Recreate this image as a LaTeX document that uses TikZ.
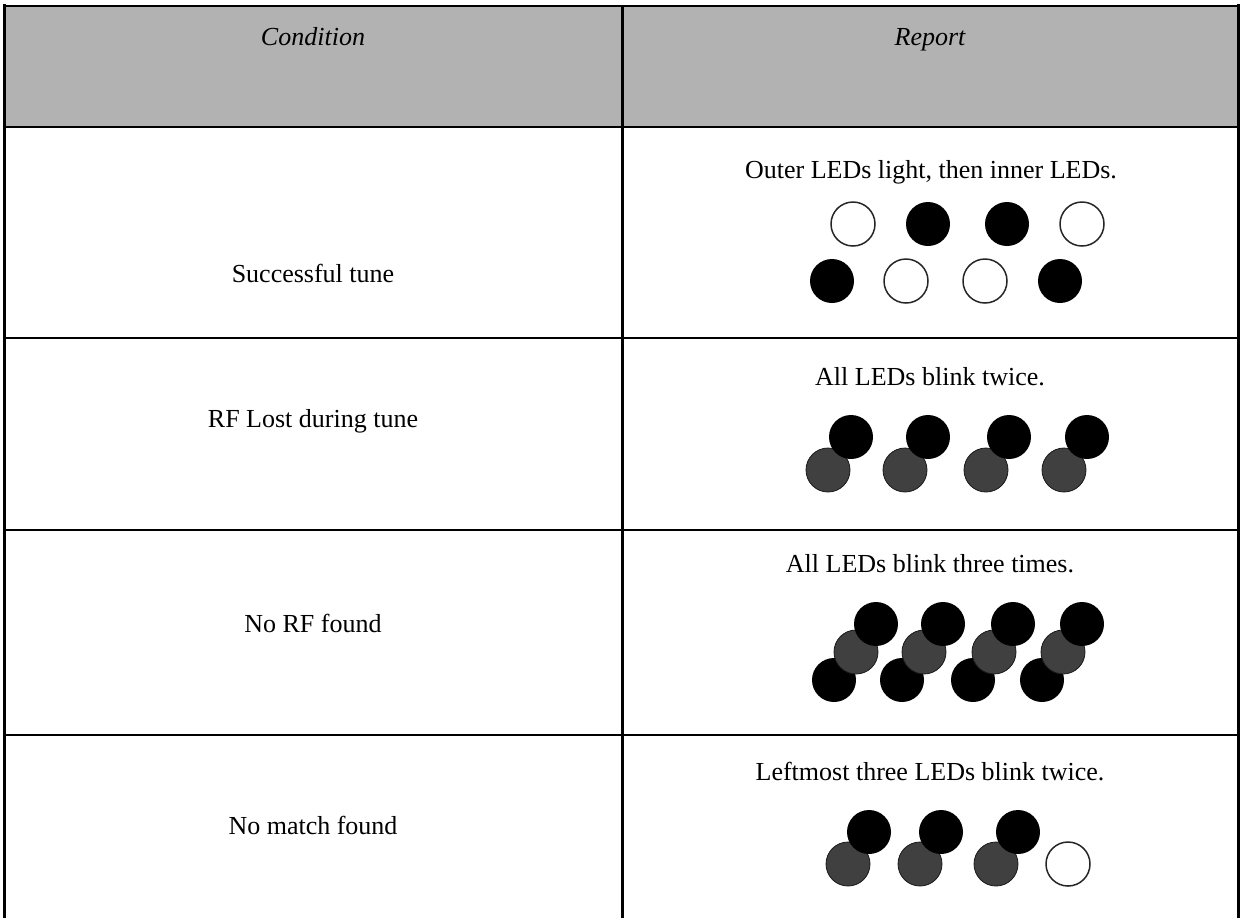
\documentclass[tikz,border=0pt]{standalone}
\usepackage{fontspec}
\setmainfont{Liberation Serif}

\tikzset{
  cell/.style={font=\fontsize{13}{15}\selectfont, inner sep=0pt, anchor=base},
  headcell/.style={cell, font=\fontsize{13}{15}\selectfont\itshape},
  led/.style={circle, inner sep=0pt, minimum size=22pt},
  ledoff/.style={led, draw=black!85, line width=0.75pt, fill=white},
  ledon/.style={led, fill=black},
  ledhalf/.style={led, fill=black!75, draw=black!90, line width=0.4pt},
  small/.style={minimum size=20pt},
}

\begin{document}
\begin{tikzpicture}[x=0.5pt,y=-0.5pt]

        \useasboundingbox (0,0) rectangle (1241,918);

        % header and grid
        \fill[black!30] (4,6) rectangle (1238,126);
        \draw[line width=1pt] (4,6) -- (1238,6);
        \draw[line width=1.5pt] (4,4) -- (4,918);
        \draw[line width=1.5pt] (1238,4) -- (1238,918);
        \draw[line width=1.5pt] (622,6) -- (622,918);
        \draw[line width=1.25pt] (4,127) -- (1238,127);
        \draw[line width=1pt] (4,338) -- (1238,338);
        \draw[line width=1pt] (4,530) -- (1238,530);
        \draw[line width=1.25pt] (4,735) -- (1238,735);

        \node[headcell] (cond) at (313,45) {Condition};
        \node[headcell] (rep)  at (930,45) {Report};

        \node[cell] (succ)       at (313,282) {Successful tune};
        \node[cell] (succrep)    at (931,178) {Outer LEDs light, then inner LEDs.};
        \node[cell] (lost)       at (313,427) {RF Lost during tune};
        \node[cell] (lostrep)    at (930,385) {All LEDs blink twice.};
        \node[cell] (norf)       at (313,632) {No RF found};
        \node[cell] (norfrep)    at (930,572) {All LEDs blink three times.};
        \node[cell] (nomatch)    at (313,834) {No match found};
        \node[cell] (nomatchrep) at (930,780) {Leftmost three LEDs blink twice.};

        % successful tune
        \node[ledoff] (s1) at (853,224) {};
        \node[ledon]  (s2) at (928,224) {};
        \node[ledon]  (s3) at (1007,224) {};
        \node[ledoff] (s4) at (1082,224) {};
        \node[ledon]  (s5) at (832,281) {};
        \node[ledoff] (s6) at (906,281) {};
        \node[ledoff] (s7) at (985,281) {};
        \node[ledon]  (s8) at (1060,281) {};

        % rf lost
        \node[ledhalf] (l1) at (828,470) {};
        \node[ledon]   (l2) at (851,437) {};
        \node[ledhalf] (l3) at (905,470) {};
        \node[ledon]   (l4) at (928,437) {};
        \node[ledhalf] (l5) at (986,470) {};
        \node[ledon]   (l6) at (1009,437) {};
        \node[ledhalf] (l7) at (1064,470) {};
        \node[ledon]   (l8) at (1087,437) {};

        % no rf
        \begin{scope}[every node/.append style={small}]
          \node[ledon]   (n1)  at (834,680) {};
          \node[ledhalf] (n2)  at (856,652) {};
          \node[ledon]   (n3)  at (876,624) {};
          \node[ledon]   (n4)  at (902,680) {};
          \node[ledhalf] (n5)  at (924,652) {};
          \node[ledon]   (n6)  at (943,624) {};
          \node[ledon]   (n7)  at (973,680) {};
          \node[ledhalf] (n8)  at (994,652) {};
          \node[ledon]   (n9)  at (1013,624) {};
          \node[ledon]   (n10) at (1042,680) {};
          \node[ledhalf] (n11) at (1063,652) {};
          \node[ledon]   (n12) at (1082,624) {};
        \end{scope}

        % no match
        \node[ledhalf] (m1) at (848,864) {};
        \node[ledon]   (m2) at (869,832) {};
        \node[ledhalf] (m3) at (920,864) {};
        \node[ledon]   (m4) at (941,832) {};
        \node[ledhalf] (m5) at (996,864) {};
        \node[ledon]   (m6) at (1018,832) {};
        \node[ledoff]  (m7) at (1068,864) {};

      \end{tikzpicture}
\end{document}
